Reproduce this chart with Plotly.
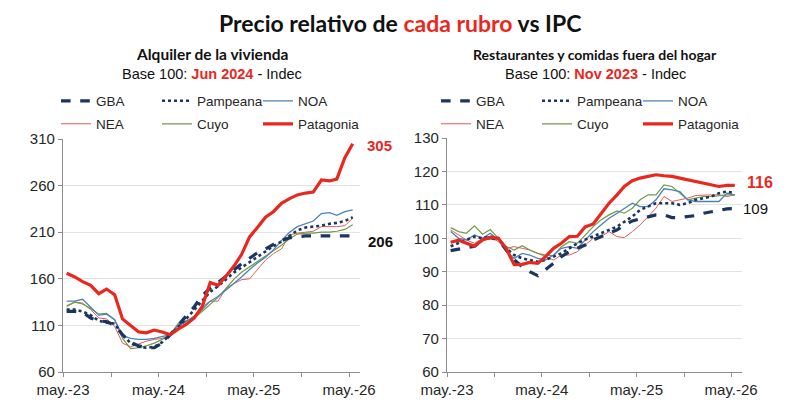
import plotly.graph_objects as go
from plotly.subplots import make_subplots

# ---------------- data ----------------
# monthly observations May-2023 .. May-2026
months = []
for k in range(37):
    y = 2023 + (4 + k) // 12
    m = (4 + k) % 12 + 1
    months.append(f"{y}-{m:02d}-15")

# Alquiler de la vivienda (Base 100 = Jun 2024)
alq_gba = [125,125,124,118,115,114,110,100,92,88,86,86,91,100,110,120,130,142,150,156,163,170,176,182,188,192,197,201,204,205,206,206,206,206,206,206,206]
alq_pampeana = [127,127,125,121,115,113,112,100,91,87,86,87,92,100,108,117,127,137,146,152,160,167,172,178,183,189,195,200,206,212,215,216,217,219,220,222,226]
alq_noa = [136,136,138,130,121,122,116,99,96,95,95,96,98,100,110,114,120,127,136,141,148,155,162,170,177,183,191,201,210,216,219,222,230,231,228,232,234]
alq_nea = [130,135,134,127,118,117,109,91,87,90,93,95,96,100,109,114,120,130,136,136,150,155,159,160,170,180,187,192,207,209,210,211,216,216,216,217,225]
alq_cuyo = [131,135,133,128,122,123,116,96,85,86,88,91,95,100,112,115,118,125,133,140,150,160,167,173,178,184,190,196,203,208,209,209,210,210,211,213,218]
alq_patagonia = [166,162,157,153,144,149,143,117,110,103,102,105,103,100,106,111,118,130,156,153,163,174,186,205,215,226,232,241,246,250,252,253,266,265,267,290,305]

# Restaurantes y comidas fuera del hogar (Base 100 = Nov 2023)
res_gba = [96.3,96.8,97.2,97.6,99.5,100.2,99.6,96.6,93.6,91.5,90,88.8,90.5,92.5,94.5,96,97,98,99.5,100.5,101.5,102.5,104,105.2,105.8,106.3,107,107,106.2,106.2,106.4,106.8,107.5,108,108.5,108.8,108.9]
res_pampeana = [97.6,98.5,99.5,100.5,100,100.5,100,97,95,94,93.5,93,93.5,94.5,95.5,97,98.5,99.6,100.5,101.5,102.5,103.5,105,106.5,108.5,109.5,110.5,110.5,110.5,110,110.5,111.5,112,112.5,113.5,114,113.5]
res_noa = [102,100,99.5,101,100,101.5,99.5,96,94,95.5,95,94,93.5,95,97,97.5,97,99.5,102,104,106,107.5,109,110.5,109.5,109.5,111.5,114.8,114.5,114,111.5,111,111,111,111,113.5,113]
res_nea = [102.5,101,99.5,98.5,100,100.5,99,97,97.5,97,96.5,95.5,94.5,93.5,95,95,96,98,100,100.5,102,100.5,100.2,102,104,106.5,109,112.5,111,111.5,112,112.8,113,113,113,112.5,113]
res_cuyo = [103.2,102,101.5,103.7,101.2,102.6,100,97.5,96.5,97.8,96.5,95.5,95,94.8,97.5,99,98.5,101,103.5,105.5,107,108.2,107.5,109,111.5,113,113,116,115.5,113.5,111.5,112,112.5,112.5,112.8,113,113]
res_patagonia = [98.8,99.4,98.5,97.6,99.5,100.3,100,97,92.1,92.2,92.8,92.5,94.5,97,98.5,100.5,100.6,103.4,104.3,107.5,110.5,113,115.5,117.2,118,118.5,119,118.7,118.5,118,117.5,117,116.5,116,115.5,115.8,115.8]

regions = ["GBA", "Pampeana", "NOA", "NEA", "Cuyo", "Patagonia"]
tick_dates = ["2023-05-01","2023-11-01","2024-05-01","2024-11-01","2025-05-01","2025-11-01","2026-05-01"]
tick_text = ["may.-23","","may.-24","","may.-25","","may.-26"]
left_yticks = [60,110,160,210,260,310]
right_yticks = [60,70,80,90,100,110,120,130]

# ---------------- styles ----------------
RED = "#e8281e"
styles = {
    "GBA": dict(color="#1c3560", width=3.2, dash="dash"),
    "Pampeana": dict(color="#1c3560", width=2.6, dash="dot"),
    "NOA": dict(color="#4b82b4", width=1.3, dash="solid"),
    "NEA": dict(color="#dd5f5a", width=1.0, dash="solid"),
    "Cuyo": dict(color="#6f9a4a", width=1.2, dash="solid"),
    "Patagonia": dict(color=RED, width=3.2, dash="solid"),
}

fig = make_subplots(rows=1, cols=2)

left = dict(zip(regions, [alq_gba, alq_pampeana, alq_noa, alq_nea, alq_cuyo, alq_patagonia]))
right = dict(zip(regions, [res_gba, res_pampeana, res_noa, res_nea, res_cuyo, res_patagonia]))

legend_of = {"GBA": 1, "Pampeana": 1, "NOA": 1, "NEA": 2, "Cuyo": 2, "Patagonia": 2}
draw_order = ["NEA", "Cuyo", "NOA", "Pampeana", "GBA", "Patagonia"]
legend_rank = {r: i for i, r in enumerate(regions)}

for name in draw_order:
    fig.add_trace(go.Scatter(x=months, y=left[name], mode="lines", name=name,
                             line=styles[name], legend="legend" if legend_of[name] == 1 else "legend2",
                             legendrank=legend_rank[name], hoverinfo="skip"), row=1, col=1)
    fig.add_trace(go.Scatter(x=months, y=right[name], mode="lines", name=name,
                             line=styles[name], legend="legend3" if legend_of[name] == 1 else "legend4",
                             legendrank=legend_rank[name], hoverinfo="skip"), row=1, col=2)

W, H = 800, 411
def px(x): return x / W
def py(y): return 1 - y / H

xax = dict(type="date", tickvals=tick_dates, ticktext=tick_text, ticks="outside", ticklen=4,
           tickcolor="#8c8c8c", showline=True, linecolor="#8c8c8c", linewidth=1.2,
           showgrid=False, range=["2023-05-01", "2026-06-12"], automargin=False,
           tickfont=dict(family="Liberation Sans, Arial", size=15, color="#262626"))
yax = dict(ticks="outside", ticklen=4, tickcolor="#8c8c8c", showline=True, linecolor="#8c8c8c",
           linewidth=1.2, showgrid=True, gridcolor="#e3e3e3", gridwidth=1, zeroline=False,
           automargin=False,
           tickfont=dict(family="Liberation Sans, Arial", size=15, color="#262626"))

fig.update_xaxes(**xax)
fig.update_yaxes(**yax)
fig.update_layout(
    xaxis=dict(domain=[px(63), px(360)]),
    xaxis2=dict(domain=[px(447), px(742)]),
    yaxis=dict(domain=[py(372), py(139)], range=[60, 310], tickvals=left_yticks),
    yaxis2=dict(domain=[py(372), py(138)], range=[60, 130], tickvals=right_yticks),
)

leg = dict(orientation="h", entrywidth=56, bgcolor="rgba(0,0,0,0)", borderwidth=0,
           font=dict(family="Liberation Sans, Arial", size=13.5, color="#262626"),
           xanchor="left", yanchor="middle", itemwidth=30, tracegroupgap=0)
fig.update_layout(
    legend=dict(leg, x=px(56), y=py(101)),
    legend2=dict(leg, x=px(56), y=py(124)),
    legend3=dict(leg, x=px(436), y=py(101)),
    legend4=dict(leg, x=px(436), y=py(124)),
)

ann = []
ann.append(dict(text="<b>Precio relativo de <span style='color:%s'>cada rubro</span> vs IPC</b>" % RED,
                x=0.5, y=py(23), xref="paper", yref="paper", showarrow=False,
                xanchor="center", yanchor="middle",
                font=dict(family="Lato", size=23, color="#111111")))
for cx, t1, base, fs in [(212, "Alquiler de la vivienda", "Jun 2024", 15.5),
                         (595, "Restaurantes y comidas fuera del hogar", "Nov 2023", 14)]:
    ann.append(dict(text="<b>%s</b>" % t1, x=px(cx), y=py(54), xref="paper", yref="paper",
                    showarrow=False, xanchor="center", yanchor="middle",
                    font=dict(family="Lato", size=fs, color="#111111")))
    ann.append(dict(text="Base 100: <b><span style='color:%s'>%s</span></b> - Indec" % (RED, base),
                    x=px(cx), y=py(74), xref="paper", yref="paper", showarrow=False,
                    xanchor="center", yanchor="middle",
                    font=dict(family="Liberation Sans, Arial", size=14.5, color="#111111")))
# end labels
ann.append(dict(text="<b>%d</b>" % alq_patagonia[-1], x=months[-1], y=alq_patagonia[-1] - 2, xref="x", yref="y",
                xanchor="left", xshift=12, showarrow=False,
                font=dict(family="Liberation Sans, Arial", size=15, color=RED)))
ann.append(dict(text="<b>%d</b>" % alq_gba[-1], x=months[-1], y=alq_gba[-1] - 6, xref="x", yref="y",
                xanchor="left", xshift=13, showarrow=False,
                font=dict(family="Liberation Sans, Arial", size=15, color="#111111")))
ann.append(dict(text="<b>%d</b>" % round(res_patagonia[-1]), x=months[-1], y=res_patagonia[-1] + 1, xref="x2", yref="y2",
                xanchor="left", xshift=10, showarrow=False,
                font=dict(family="Liberation Sans, Arial", size=16, color=RED)))
ann.append(dict(text="%d" % round(res_gba[-1]), x=months[-1], y=res_gba[-1], xref="x2", yref="y2",
                xanchor="left", xshift=6, showarrow=False,
                font=dict(family="Liberation Sans, Arial", size=15, color="#111111")))

fig.update_layout(annotations=ann, width=W, height=H, margin=dict(l=0, r=0, t=0, b=0, autoexpand=False),
                  plot_bgcolor="white", paper_bgcolor="white", showlegend=True)

fig.write_html("out.html")
